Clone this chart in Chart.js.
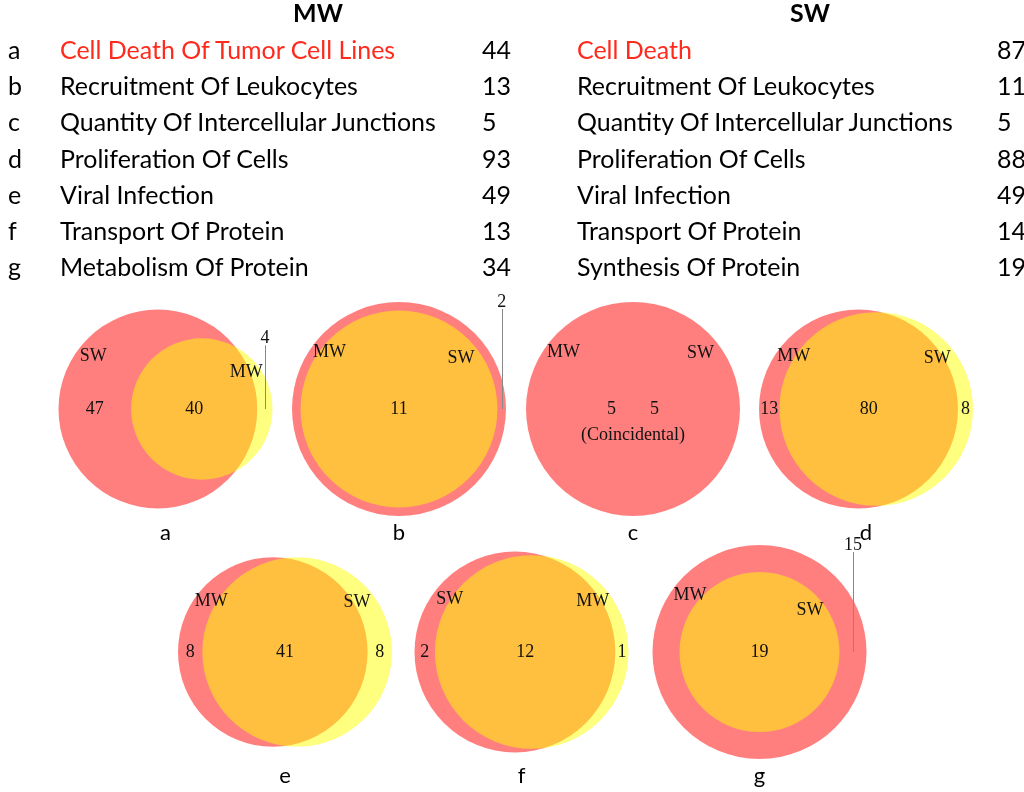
<!DOCTYPE html>
<html>
<head>
<meta charset="utf-8">
<script src="https://cdn.jsdelivr.net/npm/chart.js@4.4.0/dist/chart.umd.min.js"></script>
<style>
body { margin: 0; background: #fff; }
#page { position: relative; width: 1024px; height: 792px; overflow: hidden; }
#venn { position: absolute; left: 0; top: 0; }
.t { position: absolute; white-space: nowrap; font-family: Lato, "Open Sans", sans-serif; line-height: normal; color: #000; }
</style>
</head>
<body>
<div id="page">
<canvas id="venn" width="1024" height="792"></canvas>
<div id="table"></div>
</div>
<script>
var letters = ['a', 'b', 'c', 'd', 'e', 'f', 'g'];
var mwTerms = ['Cell Death Of Tumor Cell Lines', 'Recruitment Of Leukocytes', 'Quantity Of Intercellular Junctions',
    'Proliferation Of Cells', 'Viral Infection', 'Transport Of Protein', 'Metabolism Of Protein'];
var mwCounts = [44, 13, 5, 93, 49, 13, 34];
var swTerms = ['Cell Death', 'Recruitment Of Leukocytes', 'Quantity Of Intercellular Junctions',
    'Proliferation Of Cells', 'Viral Infection', 'Transport Of Protein', 'Synthesis Of Protein'];
var swCounts = [87, 11, 5, 88, 49, 14, 19];
var sharedCounts = [40, 11, 5, 80, 41, 12, 19];

// page layout
var panelX = [165.5, 399, 633, 866, 285, 521.5, 759.5];
var panelY = [409, 409, 409, 409, 652, 652, 652];
var panelWidth = 214;
var leaderPanels = ['a', 'b', 'g'];
var highlightRow = 0;
var sansFont = 'Lato, "Open Sans", sans-serif';
var serifFont = '"Liberation Serif", "Times New Roman", serif';

// ---- table at the top ----
var mctx = document.createElement('canvas').getContext('2d');
mctx.font = '100px ' + sansFont;
var fs = 337 / mctx.measureText(mwTerms[0]).width * 100;
mctx.font = fs + 'px ' + sansFont;
var ascent = mctx.measureText('Hg').fontBoundingBoxAscent;

function addText(txt, x, baseline, align, color, bold) {
    var el = document.createElement('div');
    el.className = 't';
    el.textContent = txt;
    el.style.fontSize = fs + 'px';
    el.style.top = (baseline - ascent) + 'px';
    el.style.left = x + 'px';
    if (align == 'center') {
        el.style.transform = 'translateX(-50%)';
    }
    if (color) el.style.color = color;
    if (bold) el.style.fontWeight = '700';
    document.getElementById('table').appendChild(el);
}

addText('MW', 318, 22, 'center', null, true);
addText('SW', 810, 22, 'center', null, true);
for (var i = 0; i < letters.length; i++) {
    var base = 59 + i * 36.17;
    var col = i == highlightRow ? '#ff2a1c' : null;
    addText(letters[i], 8, base);
    addText(mwTerms[i], 60, base, null, col);
    addText(String(mwCounts[i]), 482, base);
    addText(swTerms[i], 577, base, null, col);
    addText(String(swCounts[i]), 997, base);
}

// ---- area proportional venn layout ----
function lensArea(R, r, d) {
    var c1 = Math.max(-1, Math.min(1, (d * d + r * r - R * R) / (2 * d * r)));
    var c2 = Math.max(-1, Math.min(1, (d * d + R * R - r * r) / (2 * d * R)));
    var tri = 0.5 * Math.sqrt(Math.max(0, (-d + r + R) * (d + r - R) * (d - r + R) * (d + r + R)));
    return r * r * Math.acos(c1) + R * R * Math.acos(c2) - tri;
}

function solveDistance(R, r, target) {
    var lo = R - r, hi = R + r, mid = (lo + hi) / 2;
    for (var it = 0; it < 60; it++) {
        mid = (lo + hi) / 2;
        if (lensArea(R, r, mid) > target) lo = mid; else hi = mid;
    }
    return mid;
}

var diagrams = letters.map(function (letter, i) {
    var mwBig = mwCounts[i] >= swCounts[i];
    var bigN = mwBig ? mwCounts[i] : swCounts[i];
    var smallN = mwBig ? swCounts[i] : mwCounts[i];
    var shared = sharedCounts[i];
    var R = Math.sqrt(bigN), r = Math.sqrt(smallN);
    var coincident = shared == bigN && shared == smallN;
    var inside = shared >= smallN;
    var d = inside ? 0 : solveDistance(R, r, Math.PI * shared);
    var left = -R, right = Math.max(R, d + r);
    var k = panelWidth / (right - left);
    return {
        letter: letter, i: i,
        cx: panelX[i] - (left + right) / 2 * k, cy: panelY[i],
        R: R * k, r: r * k, d: d * k,
        bigName: mwBig ? 'MW' : 'SW', smallName: mwBig ? 'SW' : 'MW',
        bigN: bigN, smallN: smallN, shared: shared,
        bigOnly: bigN - shared, smallOnly: smallN - shared,
        coincident: coincident, inside: inside
    };
});

var redPoints = diagrams.map(function (g) {
    return { x: g.cx, y: g.cy, rad: g.R };
});
var yellowPoints = diagrams.filter(function (g) { return !g.coincident; }).map(function (g) {
    return { x: g.cx + g.d, y: g.cy, rad: g.r };
});

var vennLabels = {
    id: 'vennLabels',
    afterDatasetsDraw: function (chart) {
        var ctx = chart.ctx, xs = chart.scales.x, ys = chart.scales.y;
        function text(t, x, y) {
            ctx.fillText(t, xs.getPixelForValue(x), ys.getPixelForValue(y));
        }
        ctx.save();
        ctx.textAlign = 'center';
        ctx.textBaseline = 'middle';
        diagrams.forEach(function (g) {
            var sx = g.cx + g.d;
            ctx.fillStyle = '#111';
            ctx.font = '18px ' + serifFont;
            text(g.bigName, g.cx - 0.65 * g.R, g.cy - 0.53 * g.R);
            text(g.smallName, sx + 0.63 * g.r, g.cy - 0.52 * g.r);

            var rightVal = null, rightX = 0;
            if (g.coincident) {
                text(String(g.bigN), g.cx - 0.2 * g.R, g.cy);
                text(String(g.smallN), g.cx + 0.2 * g.R, g.cy);
                text('(Coincidental)', g.cx, g.cy + 0.25 * g.R);
            } else if (g.inside) {
                text(String(g.shared), sx, g.cy);
                rightVal = g.bigOnly;
                rightX = (sx + g.r + g.cx + g.R) / 2;
            } else {
                text(String(g.bigOnly), (g.cx - g.R + sx - g.r) / 2, g.cy);
                text(String(g.shared), (sx - g.r + g.cx + g.R) / 2, g.cy);
                rightVal = g.smallOnly;
                rightX = (g.cx + g.R + sx + g.r) / 2;
            }
            if (rightVal !== null) {
                if (leaderPanels.indexOf(g.letter) >= 0) {
                    var outer = sx + g.r > g.cx + g.R ? g.r : g.R;
                    var top = g.cy - outer;
                    text(String(rightVal), rightX, top);
                    var lx = Math.round(xs.getPixelForValue(rightX)) + 0.5;
                    ctx.strokeStyle = '#888';
                    ctx.lineWidth = 1;
                    ctx.beginPath();
                    ctx.moveTo(lx, ys.getPixelForValue(top + 7));
                    ctx.lineTo(lx, ys.getPixelForValue(g.cy));
                    ctx.stroke();
                } else {
                    text(String(rightVal), rightX, g.cy);
                }
            }
            // panel letter
            ctx.fillStyle = '#000';
            ctx.font = '22px ' + sansFont;
            text(g.letter, panelX[g.i], g.cy + 124);
        });
        ctx.restore();
    }
};

var vennChart = new Chart(document.getElementById('venn'), {
    type: 'bubble',
    data: {
        datasets: [{
            label: 'smaller set',
            data: yellowPoints,
            backgroundColor: 'rgba(255, 255, 0, 0.5)',
            borderWidth: 0,
            clip: false
        }, {
            label: 'larger set',
            data: redPoints,
            backgroundColor: 'rgba(255, 0, 0, 0.5)',
            borderWidth: 0,
            clip: false
        }]
    },
    options: {
        responsive: false,
        animation: false,
        events: [],
        layout: { padding: 0, autoPadding: false },
        plugins: {
            legend: { display: false },
            tooltip: { enabled: false }
        },
        scales: {
            x: { type: 'linear', display: false, min: 0, max: 1024 },
            y: { type: 'linear', display: false, min: 0, max: 792, reverse: true }
        }
    },
    plugins: [vennLabels]
});

// bubble radius in pixels, taken from the x scale once it is laid out
var xScale = vennChart.scales.x;
[yellowPoints, redPoints].forEach(function (list) {
    list.forEach(function (p) {
        p.r = xScale.getPixelForValue(p.x + p.rad) - xScale.getPixelForValue(p.x);
    });
});
vennChart.update();
</script>
</body>
</html>
